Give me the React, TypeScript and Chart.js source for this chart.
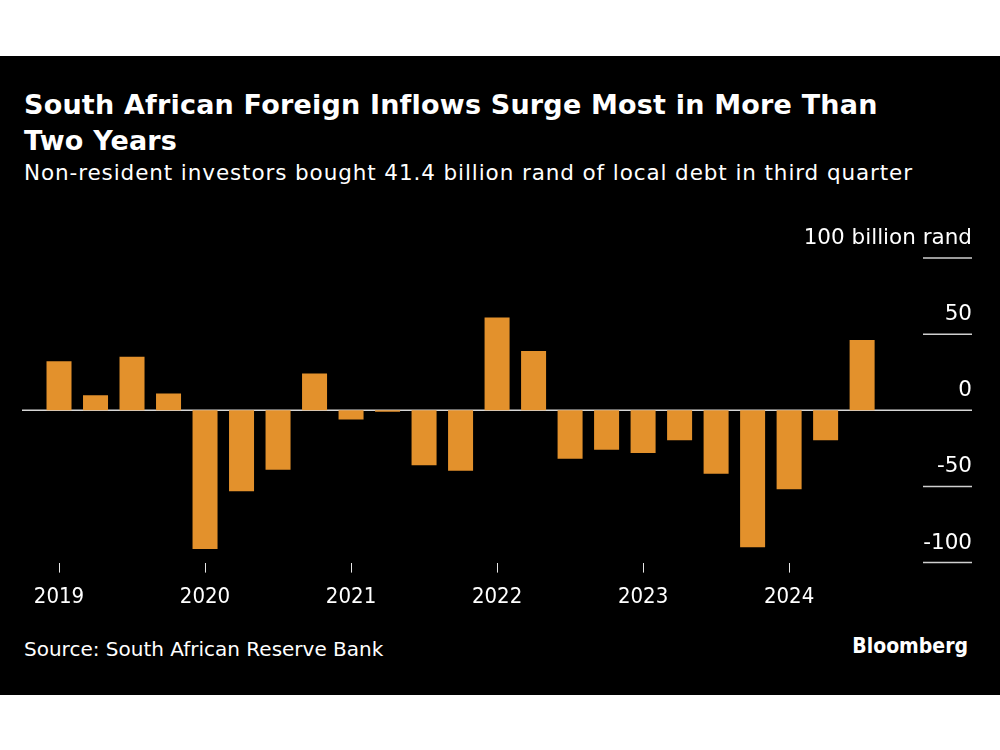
import React, { useEffect, useRef } from "react";
import { Chart, registerables } from "chart.js";

Chart.register(...registerables);

// ---- Data ----
const quarters = [
  "2019Q1", "2019Q2", "2019Q3", "2019Q4",
  "2020Q1", "2020Q2", "2020Q3", "2020Q4",
  "2021Q1", "2021Q2", "2021Q3", "2021Q4",
  "2022Q1", "2022Q2", "2022Q3", "2022Q4",
  "2023Q1", "2023Q2", "2023Q3", "2023Q4",
  "2024Q1", "2024Q2", "2024Q3",
];
const inflows = [
  32.2, 9.9, 35.1, 11.0,
  -91.0, -53.1, -39.0, 24.1,
  -6.1, -1.0, -36.0, -39.7,
  61.0, 39.0, -31.8, -25.9,
  -28.1, -19.7, -41.7, -89.9,
  -51.8, -19.7, 46.1,
];
const yearTickIndex = [0, 4, 8, 12, 16, 20];
const yearLabels = ["2019", "2020", "2021", "2022", "2023", "2024"];
const yTickValues = [100, 50, 0, -50, -100];
const yTickLabels = ["100 billion rand", "50", "0", "-50", "-100"];

const FONT = "'DejaVu Sans', 'Liberation Sans', sans-serif";
const FONT_COND = "'DejaVu Sans Condensed', 'DejaVu Sans', sans-serif";
const BAR_COLOR = "#e3912c";

const overlayPlugin = {
  id: "overlay",
  beforeDatasetsDraw(chart: any) {
    const { ctx, chartArea, scales } = chart;
    const y0 = scales.y.getPixelForValue(0);
    ctx.save();
    ctx.strokeStyle = "#d6d6d6";
    ctx.lineWidth = 1.5;
    ctx.beginPath();
    ctx.moveTo(chartArea.left, y0);
    ctx.lineTo(chartArea.right, y0);
    ctx.stroke();
    ctx.restore();
  },
  afterDraw(chart: any) {
    const { ctx, chartArea, scales } = chart;
    ctx.save();
    ctx.font = `21.5px ${FONT}`;
    ctx.fillStyle = "#ffffff";
    ctx.textAlign = "right";
    ctx.textBaseline = "alphabetic";
    yTickValues.forEach((v, i) => {
      const py = scales.y.getPixelForValue(v);
      if (v !== 0) {
        ctx.strokeStyle = "#cfcfcf";
        ctx.lineWidth = 1.5;
        ctx.beginPath();
        ctx.moveTo(chartArea.right - 49, py);
        ctx.lineTo(chartArea.right, py);
        ctx.stroke();
      }
      ctx.fillText(yTickLabels[i], chartArea.right, py - 14);
    });
    ctx.restore();
  },
};

function BarChart() {
  const ref = useRef<HTMLCanvasElement | null>(null);
  useEffect(() => {
    if (!ref.current) return;
    const chart = new Chart(ref.current, {
      type: "bar",
      data: {
        labels: quarters,
        datasets: [
          {
            label: "Non-resident purchases",
            data: inflows.map((v, i) => ({ x: i, y: v })),
            backgroundColor: BAR_COLOR,
            borderWidth: 0,
            barPercentage: 0.685,
            categoryPercentage: 1,
          },
        ],
      },
      options: {
        responsive: false,
        animation: false,
        devicePixelRatio: 1,
        layout: { padding: { left: 22, right: 28, top: 58, bottom: 4 } },
        plugins: { legend: { display: false }, tooltip: { enabled: false }, title: { display: false } },
        scales: {
          x: {
            type: "linear",
            min: -1.014,
            max: 25.01,
            offset: false,
            afterBuildTicks: (axis: any) => {
              axis.ticks = yearTickIndex.map((v) => ({ value: v }));
            },
            grid: {
              offset: false,
              drawOnChartArea: false,
              drawTicks: true,
              tickLength: 10,
              tickWidth: 1,
              tickColor: "#e6e6e6",
              color: "#e6e6e6",
            },
            border: { display: false },
            ticks: {
              color: "#ffffff",
              font: { family: FONT_COND, size: 22 },
              padding: 11,
              maxRotation: 0,
              autoSkip: false,
              callback: (value: any) => {
                const k = yearTickIndex.indexOf(Number(value));
                return k >= 0 ? yearLabels[k] : "";
              },
            },
          },
          y: {
            display: false,
            min: -100,
            max: 100,
          },
        },
      },
      plugins: [overlayPlugin],
    } as any);
    return () => chart.destroy();
  }, []);
  return <canvas ref={ref} width={1000} height={425} style={{ position: "absolute", left: 0, top: 200, width: 1000, height: 425 }} />;
}

export default function App() {
  return (
    <div style={{ position: "absolute", left: 0, top: 0, width: 1000, height: 750, background: "#ffffff", overflow: "hidden" }}>
      <div style={{ position: "absolute", left: 0, top: 56, width: 1000, height: 639, background: "#000000" }} />
      <div
        style={{
          position: "absolute",
          left: 24,
          top: 87,
          width: 960,
          color: "#ffffff",
          fontFamily: FONT,
          fontWeight: 700,
          fontSize: 27,
          letterSpacing: "0.2px",
          lineHeight: "36px",
          whiteSpace: "nowrap",
        }}
      >
        South African Foreign Inflows Surge Most in More Than
        <br />
        Two Years
      </div>
      <div
        style={{
          position: "absolute",
          left: 24,
          top: 160.5,
          color: "#ffffff",
          fontFamily: FONT,
          fontSize: 21.5,
          letterSpacing: "0.9px",
          lineHeight: "24px",
          whiteSpace: "nowrap",
        }}
      >
        Non-resident investors bought 41.4 billion rand of local debt in third quarter
      </div>
      <BarChart />
      <div
        style={{
          position: "absolute",
          left: 24,
          top: 637,
          color: "#ffffff",
          fontFamily: FONT,
          fontSize: 20,
          lineHeight: "24px",
          whiteSpace: "nowrap",
        }}
      >
        Source: South African Reserve Bank
      </div>
      <div
        style={{
          position: "absolute",
          right: 32,
          top: 634,
          color: "#ffffff",
          fontFamily: FONT_COND,
          fontWeight: 700,
          fontSize: 21,
          lineHeight: "24px",
          whiteSpace: "nowrap",
        }}
      >
        Bloomberg
      </div>
    </div>
  );
}
